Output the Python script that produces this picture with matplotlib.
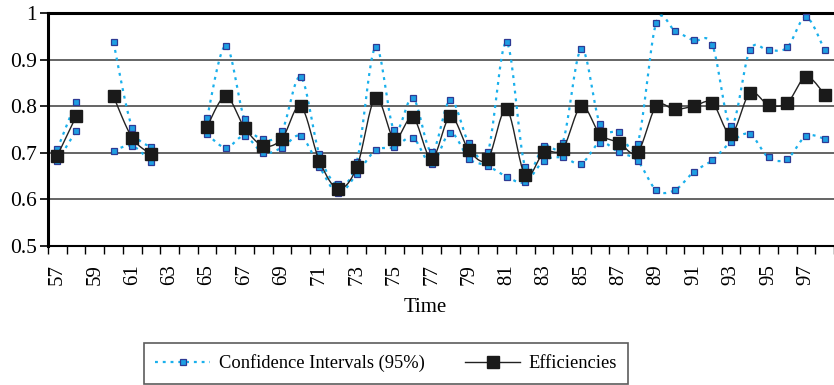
import numpy as np
import matplotlib
matplotlib.use('Agg')
import matplotlib.pyplot as plt
from matplotlib.lines import Line2D

plt.rcParams['font.family'] = 'Liberation Serif'

nan = np.nan
# years on the category axis (19xx)
years = np.arange(57, 99)
efficiency = [0.694, 0.778, nan, 0.821, 0.732, 0.697, nan, nan, 0.756, 0.821,
              0.754, 0.715, 0.730, 0.800, 0.683, 0.623, 0.669, 0.818, 0.730, 0.776,
              0.687, 0.778, 0.705, 0.687, 0.793, 0.652, 0.701, 0.708, 0.800, 0.740,
              0.722, 0.701, 0.800, 0.793, 0.800, 0.807, 0.740, 0.828, 0.803, 0.807,
              0.863, 0.825]
ci_upper = [0.708, 0.810, nan, 0.937, 0.753, 0.712, nan, nan, 0.775, 0.930,
            0.772, 0.729, 0.747, 0.863, 0.697, 0.632, 0.681, 0.927, 0.748, 0.818,
            0.702, 0.814, 0.720, 0.701, 0.937, 0.669, 0.715, 0.722, 0.923, 0.761,
            0.744, 0.719, 0.979, 0.962, 0.941, 0.931, 0.758, 0.920, 0.920, 0.926,
            0.991, 0.920]
ci_lower = [0.682, 0.747, nan, 0.704, 0.715, 0.680, nan, nan, 0.740, 0.711,
            0.736, 0.700, 0.711, 0.736, 0.670, 0.613, 0.655, 0.705, 0.712, 0.732,
            0.676, 0.743, 0.687, 0.672, 0.649, 0.637, 0.683, 0.690, 0.677, 0.722,
            0.701, 0.683, 0.620, 0.620, 0.659, 0.684, 0.723, 0.740, 0.690, 0.687,
            0.736, 0.730]


def smooth_segments(x, y, n=20):
    # Excel-like smoothed line (Catmull-Rom bezier), broken at gaps
    x = np.asarray(x, float)
    y = np.asarray(y, float)
    ok = ~np.isnan(y)
    segs = []
    cur = []
    for i in range(len(x)):
        if ok[i]:
            cur.append((x[i], y[i]))
        elif cur:
            segs.append(cur)
            cur = []
    if cur:
        segs.append(cur)
    out = []
    t = np.linspace(0, 1, n)[:, None]
    for seg in segs:
        p = np.array(seg)
        if len(p) < 2:
            continue
        pts = [p[:1]]
        for i in range(len(p) - 1):
            p0 = p[i - 1] if i > 0 else p[i]
            p1 = p[i]
            p2 = p[i + 1]
            p3 = p[i + 2] if i + 2 < len(p) else p[i + 1]
            b1 = p1 + (p2 - p0) / 6
            b2 = p2 - (p3 - p1) / 6
            c = ((1 - t) ** 3) * p1 + 3 * ((1 - t) ** 2) * t * b1 + 3 * (1 - t) * t ** 2 * b2 + t ** 3 * p2
            pts.append(c[1:])
        out.append(np.vstack(pts))
    return out


fig = plt.figure(figsize=(8.34, 3.85), dpi=100)
ax = fig.add_axes([48 / 834, 1 - 246 / 385, 1 - 48 / 834, (246 - 13) / 385])

ci_line = '#1AB0EC'
ci_face = '#1E9FE3'
ci_edge = '#2E3A94'
dots = (0, (1.3, 2.2))

for series in (ci_upper, ci_lower):
    for s in smooth_segments(years, series):
        ax.plot(s[:, 0], s[:, 1], color=ci_line, lw=1.6, linestyle=dots, zorder=3)
    ax.plot(years, series, linestyle='none', marker='s', ms=5, mfc=ci_face,
            mec=ci_edge, mew=0.9, zorder=4)

for s in smooth_segments(years, efficiency):
    ax.plot(s[:, 0], s[:, 1], color='#222222', lw=1.0, zorder=5)
ax.plot(years, efficiency, linestyle='none', marker='s', ms=8.5, mfc='#1a1a1a',
        mec='#1a1a1a', zorder=6)

ax.set_ylim(0.5, 1.0)
ax.set_xlim(56.5, 98.26)
ax.set_yticks([0.5, 0.6, 0.7, 0.8, 0.9, 1.0])
ax.set_yticklabels(['0.5', '0.6', '0.7', '0.8', '0.9', '1'])
ax.set_xticks(years[::2])
ax.set_xticklabels([str(v) for v in years[::2]], rotation=90)
ax.set_xticks(np.arange(56.5, 99, 1), minor=True)
ax.tick_params(axis='x', which='major', length=0, pad=13, labelsize=15)
ax.tick_params(axis='x', which='minor', length=6, width=1.0, direction='out')
ax.tick_params(axis='y', length=6, width=1.2, direction='out', labelsize=15.5, pad=2)

for y in [0.6, 0.7, 0.8, 0.9]:
    ax.axhline(y, color='#4a4a4a', lw=1.2, zorder=1)

ax.spines['right'].set_visible(False)
ax.spines['top'].set_linewidth(2.2)
ax.spines['left'].set_linewidth(2.2)
ax.spines['bottom'].set_linewidth(1.5)

ax.set_xlabel('Time', fontsize=15, labelpad=10)
ax.xaxis.set_label_coords((425 - 48) / 786, -0.225, transform=ax.transAxes)
ax.xaxis.label.set_va('top')

handles = [
    Line2D([], [], color=ci_line, lw=1.6, linestyle=dots, marker='s', ms=5,
           mfc=ci_face, mec=ci_edge, mew=0.9),
    Line2D([], [], color='#222222', lw=1.0, marker='s', ms=8.5, mfc='#1a1a1a',
           mec='#1a1a1a'),
]
leg = fig.legend(handles, ['Confidence Intervals (95%)', 'Efficiencies'],
                 loc='center', bbox_to_anchor=(386 / 834, 1 - 363.5 / 385), ncol=2,
                 fontsize=13.3, frameon=True, fancybox=False, handlelength=3.0,
                 handletextpad=0.45, columnspacing=2.2, borderpad=0.6,
                 borderaxespad=0, numpoints=1)
leg.get_frame().set_edgecolor('#333333')
leg.get_frame().set_linewidth(1.2)

fig.savefig('out.png', dpi=100)
